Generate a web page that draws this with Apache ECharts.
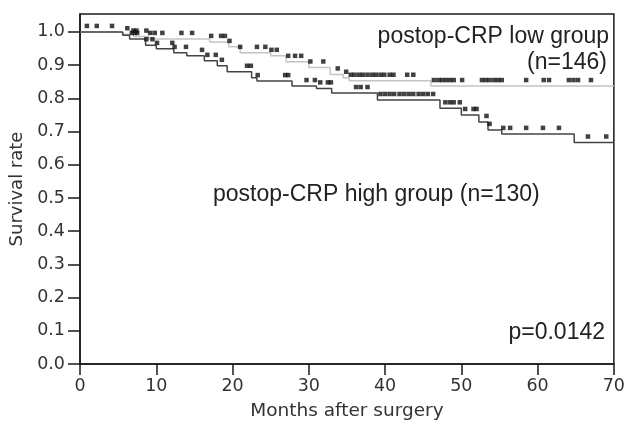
<!DOCTYPE html>
<html>
<head>
<meta charset="utf-8">
<script src="https://cdn.jsdelivr.net/npm/echarts@6/dist/echarts.min.js"></script>
<style>
html,body{margin:0;padding:0;background:#fff;}
#chart{width:628px;height:426px;}
</style>
</head>
<body>
<div id="chart"></div>
<script>
// Kaplan-Meier step data (time in months, survival rate)
const lowTimes = [0, 5.6, 7, 9, 17, 19.5, 21, 25, 27, 30, 32.8, 34.5, 35.3, 46, 70];
const lowSurv  = [1.0, 0.993, 0.986, 0.979, 0.97, 0.955, 0.937, 0.928, 0.91, 0.893, 0.872, 0.862, 0.853, 0.837, 0.837];

const highTimes = [0, 5.6, 6.5, 8.6, 10, 12.3, 14, 16.3, 18, 19.3, 22.5, 23.2, 27.8, 31, 33, 39, 47.2, 50, 52.3, 53.5, 55.3, 64.8, 70];
const highSurv  = [1.0, 0.99, 0.979, 0.96, 0.949, 0.937, 0.928, 0.913, 0.898, 0.88, 0.862, 0.852, 0.837, 0.83, 0.816, 0.795, 0.77, 0.75, 0.729, 0.705, 0.693, 0.667, 0.667];

// censoring times
const lowCensor = [0.9, 2.2, 4.2, 6.2, 7.0, 7.4, 8.7, 9.2, 9.8, 10.8, 13.3, 14.7, 17.2, 18.5, 19.0, 19.6, 21.0, 23.2, 24.3, 25.1, 25.8, 27.3, 28.2, 29.0, 30.2, 31.9, 33.8, 34.9, 35.5, 36.0, 36.6, 37.1, 37.7, 38.3, 38.8, 39.4, 39.9, 40.6, 41.1, 42.9, 43.7, 46.4, 47.0, 47.5, 48.0, 48.5, 49.0, 50.1, 52.7, 53.2, 53.7, 54.3, 54.8, 55.3, 58.5, 60.8, 61.5, 64.1, 64.7, 65.3, 67.0];
const highCensor = [6.8, 7.2, 7.5, 8.7, 9.5, 10.1, 12.1, 12.4, 13.9, 16.0, 16.7, 17.8, 18.6, 21.9, 22.4, 23.3, 26.9, 27.3, 29.7, 30.8, 31.5, 32.5, 32.9, 36.2, 36.8, 37.7, 39.4, 40.0, 40.6, 41.2, 41.9, 42.5, 43.1, 43.7, 44.4, 45.0, 45.6, 46.3, 47.9, 48.5, 49.0, 49.8, 50.5, 51.6, 52.0, 53.3, 53.7, 55.5, 56.4, 58.5, 60.7, 62.8, 66.6, 69.0];

const xTicks = [0, 10, 20, 30, 40, 50, 60, 70];
const yTicks = [0, 0.1, 0.2, 0.3, 0.4, 0.5, 0.6, 0.7, 0.8, 0.9, 1.0];

function survAt(times, surv, t) {
  let s = surv[0];
  for (let i = 0; i < times.length; i++) { if (times[i] <= t) s = surv[i]; }
  return s;
}
const lowLine = lowTimes.map((t, i) => [t, lowSurv[i]]);
const highLine = highTimes.map((t, i) => [t, highSurv[i]]);
const lowMarks = lowCensor.map(t => [t, survAt(lowTimes, lowSurv, t)]);
const highMarks = highCensor.map(t => [t, survAt(highTimes, highSurv, t)]);

const chart = echarts.init(document.getElementById('chart'));
const tickFont = 'DejaVu Sans';
chart.setOption({
  animation: false,
  backgroundColor: '#fff',
  grid: { left: 80, right: 11, top: 14, bottom: 62, show: true, borderColor: '#1a1a1a', borderWidth: 1.5, backgroundColor: 'transparent' },
  xAxis: {
    type: 'value', min: 0, max: 70, interval: 10,
    name: 'Months after surgery', nameLocation: 'middle', nameGap: 38,
    nameTextStyle: { fontFamily: tickFont, fontSize: 18.5, color: '#333' },
    axisLine: { show: true, onZero: false, lineStyle: { color: '#1a1a1a', width: 1.5 } },
    axisTick: { show: true, length: 11, customValues: xTicks, lineStyle: { color: '#1a1a1a', width: 1.5 } },
    axisLabel: { margin: 13, customValues: xTicks, fontFamily: tickFont, fontSize: 17.5, color: '#333' },
    splitLine: { show: false }
  },
  yAxis: {
    type: 'value', min: 0, max: 1.054,
    name: 'Survival rate', nameLocation: 'middle', nameGap: 54,
    nameTextStyle: { fontFamily: tickFont, fontSize: 18, color: '#333' },
    axisLine: { show: true, onZero: false, lineStyle: { color: '#1a1a1a', width: 1.5 } },
    axisTick: { show: true, length: 12, customValues: yTicks, lineStyle: { color: '#1a1a1a', width: 1.5 } },
    axisLabel: { margin: 15, customValues: yTicks, fontFamily: tickFont, fontSize: 17.5, color: '#333',
      formatter: v => v.toFixed(1) },
    splitLine: { show: false }
  },
  series: [
    { type: 'line', step: 'end', data: lowLine, showSymbol: false, lineStyle: { color: '#c4c4c4', width: 1.5 }, z: 2 },
    { type: 'line', step: 'end', data: highLine, showSymbol: false, lineStyle: { color: '#444', width: 1.5 }, z: 3 },
    { type: 'scatter', data: lowMarks, symbol: 'rect', symbolSize: [4.5, 4.5], symbolOffset: [0, -6], itemStyle: { color: '#111' }, z: 5 },
    { type: 'scatter', data: highMarks, symbol: 'rect', symbolSize: [4.5, 4.5], symbolOffset: [0, -6], itemStyle: { color: '#111' }, z: 5 }
  ],
  graphic: [
    { type: 'text', right: 19, top: 25, style: { text: 'postop-CRP low group', font: '23px "Liberation Sans"', fill: '#222' } },
    { type: 'text', right: 21, top: 51, style: { text: '(n=146)', font: '23px "Liberation Sans"', fill: '#222' } },
    { type: 'text', left: 213, top: 183, style: { text: 'postop-CRP high group (n=130)', font: '23px "Liberation Sans"', fill: '#222' } },
    { type: 'text', right: 23, top: 321, style: { text: 'p=0.0142', font: '23px "Liberation Sans"', fill: '#222' } }
  ]
});
</script>
</body>
</html>
